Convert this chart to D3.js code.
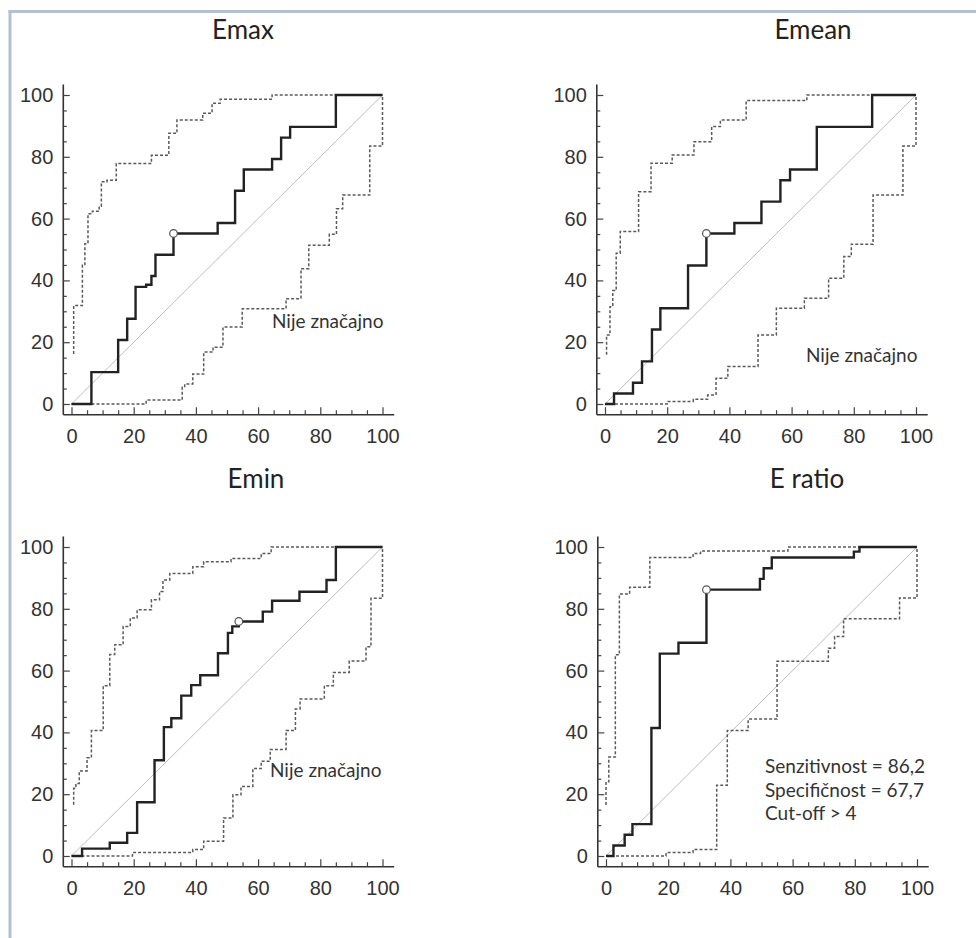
<!DOCTYPE html>
<html>
<head>
<meta charset="utf-8">
<script src="https://cdn.jsdelivr.net/npm/d3@7"></script>
<style>
  body { margin: 0; background: #fff; }
  svg { display: block; }
  .tick text { font-family: "Liberation Sans", Arial, sans-serif; font-size: 20px; fill: #333; }
  .title { font-family: Lato, "Open Sans", sans-serif; font-size: 26px; fill: #222; }
  .note { font-family: Lato, "Open Sans", sans-serif; font-size: 19px; fill: #333; }
</style>
</head>
<body>
<svg id="chart" width="976" height="938"></svg>
<script>
// Axis ticks
const majorTicks = [0, 20, 40, 60, 80, 100];
const minorTicks = d3.range(0, 101, 5);

// Emax: ROC curve and its 95% confidence bounds (100-specificity, sensitivity)
const emaxRocX = [0, 6.4, 15, 17.9, 20.6, 24, 25.7, 27, 32.8, 47, 52.6, 55.4, 64.5, 67.4, 70.3, 85, 100];
const emaxRocY = [0, 10.3, 20.7, 27.6, 37.9, 38.6, 41.4, 48.3, 55.2, 58.6, 69, 75.9, 79.3, 86.2, 89.7, 100, 100];
const emaxUpX = [0.7, 0.7, 3.5, 4.3, 5.3, 6.7, 8.9, 9.6, 11.4, 14.4, 25.7, 31.3, 33.9, 42.2, 45.2, 47.8, 64.5, 100];
const emaxUpY = [16.2, 31.9, 44.9, 51.9, 61.6, 62.4, 64, 71.9, 72.4, 77.8, 80.5, 87.6, 91.9, 94.1, 97.3, 98.6, 100, 100];
const emaxLoX = [0, 24, 35.6, 36.4, 39, 42.5, 45.5, 48.7, 54.9, 69, 73.8, 76.3, 82.9, 85.2, 87.2, 95.9, 100];
const emaxLoY = [0, 1.3, 5.4, 6.5, 9.7, 16.8, 18.4, 24.9, 30.8, 34.1, 43.8, 51.4, 54.9, 63.2, 67.6, 83.5, 100];
const emaxCut = [32.8, 55.2];

// Emean
const emeanRocX = [0, 2.9, 9, 11.9, 15.1, 17.8, 26.7, 32.6, 41.6, 50.3, 56.4, 59.5, 68.1, 85.9, 100];
const emeanRocY = [0, 3.4, 6.9, 13.8, 24.1, 31, 44.8, 55.2, 58.6, 65.5, 72.4, 75.9, 89.7, 100, 100];
const emeanUpX = [0.5, 0.5, 1.6, 2.5, 3.6, 4.9, 10.8, 14.8, 21.6, 28.6, 34.3, 37.1, 45.4, 64.9, 100];
const emeanUpY = [15.9, 22.3, 31.5, 36.7, 48.8, 55.8, 68.7, 77.9, 80.6, 84.9, 89.8, 91.9, 98.2, 100, 100];
const emeanLoX = [0, 20, 28.4, 33, 35.7, 39.5, 49.2, 55.1, 64.1, 71.9, 76.8, 79.2, 86.2, 95.8, 100];
const emeanLoY = [0, 0.8, 1.5, 2.9, 8.3, 12.1, 22.3, 31, 34.2, 40.7, 47.7, 51.7, 67.6, 83.5, 100];
const emeanCut = [32.6, 55.2];

// Emin
const eminRocX = [0, 3.4, 12.3, 17.9, 21.1, 26.7, 29.7, 32.1, 35.3, 38.5, 41.4, 47.1, 50.3, 51.7, 53.8, 61.5, 64.5, 73.3, 82, 85, 100];
const eminRocY = [0, 2.4, 4.3, 7.5, 17.4, 31, 41.7, 44.6, 51.9, 55.3, 58.5, 65.6, 72.2, 74.3, 75.9, 79.1, 82.6, 85.5, 89.3, 100, 100];
const eminUpX = [0.7, 0.7, 1.4, 2.5, 5, 6.4, 10.2, 12.3, 13.9, 16.6, 18.9, 21.1, 25.7, 28.3, 29.4, 31.6, 39, 42.5, 51.3, 61, 64.2, 100];
const eminUpY = [16.6, 21.9, 23.5, 27.5, 31.8, 40.6, 55.1, 65.2, 68.4, 74.3, 77, 79.7, 82.9, 85.6, 89.3, 91.4, 93.6, 95.2, 96.3, 97.9, 100, 100];
const eminLoX = [0, 19.6, 39, 42.5, 48.9, 51.9, 54.5, 58.3, 61, 63.9, 69, 72, 73.5, 81.3, 84.2, 89.3, 94.7, 96.3, 100];
const eminLoY = [0, 1.1, 2.1, 4.8, 12.3, 19.8, 22.5, 28.3, 30.7, 34.5, 40.6, 47.6, 50.8, 55.1, 59.4, 63.1, 67.7, 83.4, 100];
const eminCut = [53.8, 75.9];

// E ratio
const eratioRocX = [0, 2.4, 6, 8.5, 14.6, 17.3, 23.3, 32.3, 49.5, 50.7, 53.3, 79.7, 81.5, 100];
const eratioRocY = [0, 3.4, 6.9, 10.3, 41.4, 65.5, 69, 86.2, 89.7, 93.1, 96.6, 98.5, 100, 100];
const eratioUpX = [0, 0, 0.9, 3, 4.3, 7.6, 14.1, 28, 30.4, 58.5, 100];
const eratioUpY = [16.5, 24, 32, 65.1, 84.8, 87, 96.6, 97.9, 98.7, 100, 100];
const eratioLoX = [0, 19.3, 28, 35.6, 39, 45.7, 55, 71.5, 73.5, 76.4, 94.4, 100];
const eratioLoY = [0, 1.1, 2.1, 22.9, 40.6, 44.3, 63, 67.2, 71, 76.8, 83.5, 100];
const eratioCut = [32.3, 86.2];

const titles = ["Emax", "Emean", "Emin", "E ratio"];
const notes = [
    ["Nije značajno"],
    ["Nije značajno"],
    ["Nije značajno"],
    ["Senzitivnost = 86,2", "Specifičnost = 67,7", "Cut-off > 4"]
];

const zip = (xs, ys) => xs.map((x, i) => [x, ys[i]]);

const panels = [
    { roc: zip(emaxRocX, emaxRocY), up: zip(emaxUpX, emaxUpY), lo: zip(emaxLoX, emaxLoY), cut: emaxCut },
    { roc: zip(emeanRocX, emeanRocY), up: zip(emeanUpX, emeanUpY), lo: zip(emeanLoX, emeanLoY), cut: emeanCut },
    { roc: zip(eminRocX, eminRocY), up: zip(eminUpX, eminUpY), lo: zip(eminLoX, eminLoY), cut: eminCut },
    { roc: zip(eratioRocX, eratioRocY), up: zip(eratioUpX, eratioUpY), lo: zip(eratioLoX, eratioLoY), cut: eratioCut }
];

// layout: left edge of x=0, top of y=100, title centre, note position
const layout = [
    { x0: 71.5, y0: 95,  tx: 243, ty: 39,  nx: 272, ny: 328 },
    { x0: 605,  y0: 95,  tx: 813, ty: 39,  nx: 806, ny: 362 },
    { x0: 71.5, y0: 547, tx: 256, ty: 488, nx: 270, ny: 777 },
    { x0: 606,  y0: 547, tx: 807, ty: 488, nx: 765, ny: 773 }
];
const W = 311, H = 309;

const svg = d3.select('#chart');

// frame of the picture
svg.append('line').attr('x1', 8.5).attr('x2', 976).attr('y1', 11.5).attr('y2', 11.5)
    .attr('stroke', '#b4c0d2').attr('stroke-width', 3);
svg.append('line').attr('x1', 10).attr('x2', 10).attr('y1', 10).attr('y2', 938)
    .attr('stroke', '#b4c0d2').attr('stroke-width', 3);

const step = d3.line().curve(d3.curveStepAfter);

panels.forEach((p, i) => {
    const L = layout[i];
    const x = d3.scaleLinear().domain([0, 100]).range([L.x0, L.x0 + W]);
    const y = d3.scaleLinear().domain([0, 100]).range([L.y0 + H, L.y0]);
    // axes sit a little outside the data area
    const xa = d3.scaleLinear().domain([-2.8, 103.6]).range([x(-2.8), x(103.6)]);
    const ya = d3.scaleLinear().domain([-3.3, 103.6]).range([y(-3.3), y(103.6)]);
    const g = svg.append('g');
    const axisY0 = ya.range()[0], axisX0 = xa.range()[0];

    g.append('g').attr('transform', `translate(0,${axisY0})`)
        .call(d3.axisBottom(xa).tickValues(majorTicks).tickSizeInner(-7).tickSizeOuter(0).tickPadding(14.5));
    g.append('g').attr('transform', `translate(0,${axisY0})`)
        .call(d3.axisBottom(xa).tickValues(minorTicks.filter(v => v % 20)).tickSizeInner(-4).tickSizeOuter(0).tickFormat(''))
        .select('.domain').remove();
    g.append('g').attr('transform', `translate(${axisX0},0)`)
        .call(d3.axisLeft(ya).tickValues(majorTicks).tickSizeInner(-7).tickSizeOuter(0).tickPadding(9.5));
    g.append('g').attr('transform', `translate(${axisX0},0)`)
        .call(d3.axisLeft(ya).tickValues(minorTicks.filter(v => v % 20)).tickSizeInner(-4).tickSizeOuter(0).tickFormat(''))
        .select('.domain').remove();
    g.selectAll('.domain').attr('stroke', '#333').attr('stroke-width', 1.6);
    g.selectAll('.tick line').attr('stroke', '#444').attr('stroke-width', 1.2);

    step.x(d => x(d[0])).y(d => y(d[1]));

    // reference diagonal
    g.append('line').attr('x1', x(0)).attr('y1', y(0)).attr('x2', x(100)).attr('y2', y(100))
        .attr('stroke', '#bdbdbd').attr('stroke-width', 1);

    [p.up, p.lo].forEach(d => {
        g.append('path').attr('d', step(d)).attr('fill', 'none')
            .attr('stroke', '#5a5a5a').attr('stroke-width', 1.5).attr('stroke-dasharray', '3,2');
    });
    g.append('path').attr('d', step(p.roc)).attr('fill', 'none')
        .attr('stroke', '#222').attr('stroke-width', 2.4);

    g.append('circle').attr('cx', x(p.cut[0])).attr('cy', y(p.cut[1])).attr('r', 3.8)
        .attr('fill', '#fff').attr('stroke', '#555').attr('stroke-width', 1.2);

    svg.append('text').attr('class', 'title').attr('x', L.tx).attr('y', L.ty)
        .attr('text-anchor', 'middle').text(titles[i]);
    notes[i].forEach((t, k) => {
        svg.append('text').attr('class', 'note').attr('x', L.nx).attr('y', L.ny + k * 23.5).text(t);
    });
});
</script>
</body>
</html>
